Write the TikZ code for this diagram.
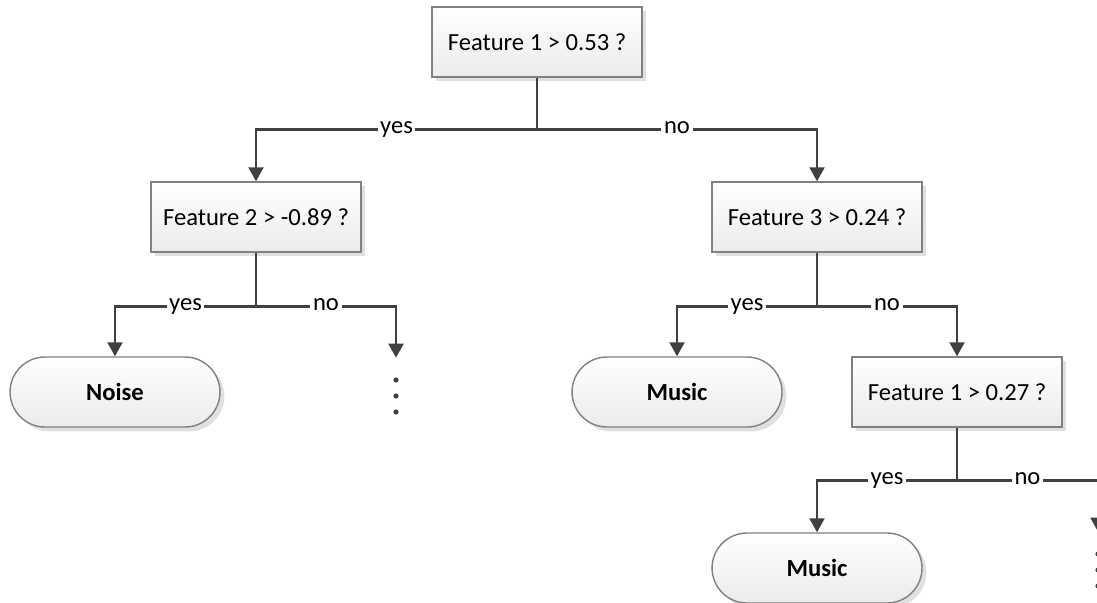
\documentclass[tikz,border=0pt]{standalone}
\usepackage{fontspec}
\setmainfont{Carlito}
\usepackage{tikz}
\usetikzlibrary{shapes,arrows.meta,backgrounds,shadows}
\definecolor{wire}{HTML}{404040}
\definecolor{boxline}{HTML}{808080}
\definecolor{boxfill}{HTML}{EBEBEB}
\tikzset{
  test/.style={ draw=boxline, line width=0.8pt, top color=white, bottom color=boxfill, minimum width=4.2cm, minimum height=1.4cm, font=\fontsize{14}{16}\selectfont, drop shadow={shadow xshift=2.5pt, shadow yshift=-2.5pt, fill=black!12, opacity=1} }
}
\tikzset{
  leaf/.style={ test, rounded corners=0.7cm, font=\fontsize{14}{16}\selectfont\bfseries }
}
\tikzset{
  dotcol/.style={ minimum width=0.2cm, minimum height=1.52cm, inner sep=0pt }
}
\tikzset{
  branch/.style={ draw=wire, line width=1.4pt },
  lbl/.style={ fill=white, inner xsep=1.5pt, inner ysep=0.5pt, text height=1ex, text depth=0pt, pos=0.25, font=\fontsize{14}{16}\selectfont }
}

\begin{document}
\begin{tikzpicture}[x=0.02cm, y=-0.02cm, >={Triangle[length=8pt, width=8.5pt]}]
      \useasboundingbox (0,0) rectangle (1097,602);

      \node[test] (root) at (537, 42) {Feature 1 > 0.53 ?};
      \node[test] (f2) at (256, 217) {Feature 2 > -0.89 ?};
      \node[test] (f3) at (817, 217) {Feature 3 > 0.24 ?};
      \node[leaf] (noise) at (115, 392) {Noise};
      \node[dotcol] (dots1) at (396, 396) {};
      \node[leaf] (music1) at (677, 392) {Music};
      \node[test] (f4) at (957, 392) {Feature 1 > 0.27 ?};
      \node[leaf] (music2) at (817, 568) {Music};
      \node[dotcol] (dots2) at (1098, 570) {};

      \foreach \d in {dots1, dots2}
        \foreach \k in {-16, 0, 16}
          \fill[wire] (\d.center) ++(0, \k) circle (1.5pt);

      \draw[branch] (root.south) -- ++(0, 52) coordinate (j0);
      \draw[branch, ->] (j0) -| node[lbl] {yes} (f2.north);
      \draw[branch, ->] (j0) -| node[lbl] {no} (f3.north);

      \draw[branch] (f2.south) -- ++(0, 54) coordinate (j1);
      \draw[branch, ->] (j1) -| node[lbl] {yes} (noise.north);
      \draw[branch, ->] (j1) -| node[lbl] {no} (dots1.north);

      \draw[branch] (f3.south) -- ++(0, 54) coordinate (j2);
      \draw[branch, ->] (j2) -| node[lbl] {yes} (music1.north);
      \draw[branch, ->] (j2) -| node[lbl] {no} (f4.north);

      \draw[branch] (f4.south) -- ++(0, 53) coordinate (j3);
      \draw[branch, ->] (j3) -| node[lbl] {yes} (music2.north);
      \draw[branch, ->] (j3) -| node[lbl] {no} (dots2.north);
    \end{tikzpicture}
\end{document}
